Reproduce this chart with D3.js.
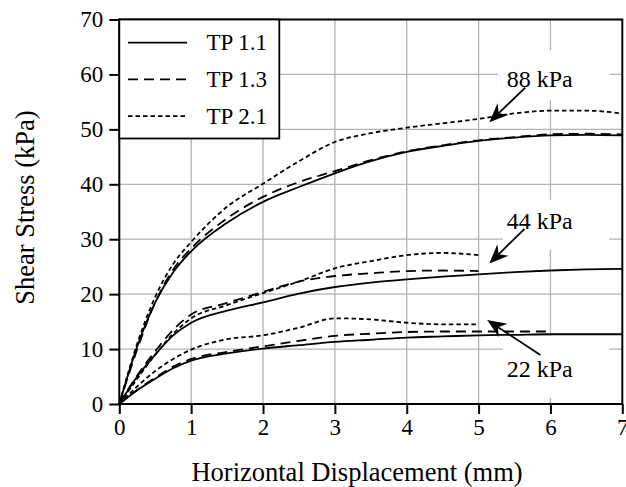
<!DOCTYPE html>
<html><head><meta charset="utf-8">
<script src="https://cdn.jsdelivr.net/npm/d3@7/dist/d3.min.js"></script>
<style>
html,body{margin:0;padding:0;background:#fff;}
svg text{font-family:'Liberation Serif','Tinos','Times New Roman',Times,'DejaVu Serif',serif !important;fill:#000;}
</style></head><body>
<svg id="c" width="626" height="487"></svg>
<script>
// ---- data ----
const xTicks = [0,1,2,3,4,5,6,7];
const yTicks = [0,10,20,30,40,50,60,70];
const seriesNames = ["TP 1.1","TP 1.3","TP 2.1"];
const disp = [0,0.25,0.5,0.75,1,1.5,2,2.5,3,3.5,4,4.5,5,5.5,6,6.5,7];
// 88 kPa
const tp11_88 = [0,10.5,18.5,24,27.8,33,36.8,39.5,42,44.2,45.9,47,47.9,48.5,48.9,49,48.9];
const tp13_88 = [0,10,18.5,24.5,28.3,33.8,37.7,40.4,42.4,44.4,46,47.1,48,48.6,49.1,49.2,49.1];
const tp21_88 = [0,11,19.5,25.5,29.5,35.9,40.1,44.2,47.7,49.3,50.3,51.1,51.9,52.9,53.4,53.4,52.9];
// 44 kPa
const tp11_44 = [0,5,9,12.5,14.8,17,18.5,20.1,21.3,22.1,22.7,23.2,23.6,24,24.3,24.5,24.6];
const tp13_44 = [0,5.2,9.6,13.5,16.3,18.4,20.4,22.3,23.3,23.8,24.2,24.3,24.2];
const tp21_44 = [0,4.6,9,12.8,15.6,18,20.2,22.3,24.7,26,27.1,27.5,27.1];
// 22 kPa
const tp11_22 = [0,2.5,4.6,6.5,7.9,9.2,10.1,10.7,11.3,11.7,12.1,12.3,12.5,12.6,12.7,12.7,12.7];
const tp13_22 = [0,2.6,4.8,6.8,8.2,9.5,10.5,11.5,12.4,12.8,13.1,13.2,13.2,13.2,13.2];
const tp21_22 = [0,3.2,6,8.2,9.9,11.8,12.5,13.9,15.6,15.4,14.8,14.5,14.5];
const annotations = [
  {label:"88 kPa", lx:5.85, ly:59.2, ax:5.65, ay:57.6, tx:5.15, ty:51.3},
  {label:"44 kPa", lx:5.85, ly:33.4, ax:5.64, ay:31.9, tx:5.15, ty:25.6},
  {label:"22 kPa", lx:5.85, ly:6.4,  ax:5.86, ay:8.9,  tx:5.12, ty:15.3}
];

// ---- layout ----
const FONT="'Liberation Serif','Tinos','Times New Roman',Times,'DejaVu Serif',serif";
const W=626,H=487;
const m={l:119.3,t:19.5,r:3.7,b:83};
const svg=d3.select("#c");
const x=d3.scaleLinear().domain([0,7]).range([m.l,W-m.r]);
const y=d3.scaleLinear().domain([0,70]).range([H-m.b,m.t]);

// grid
const g=svg.append("g");
g.selectAll(".vg").data(xTicks.slice(1,-1)).enter().append("line")
 .attr("x1",d=>x(d)).attr("x2",d=>x(d)).attr("y1",y(0)).attr("y2",y(70))
 .attr("stroke","#b3b3b3").attr("stroke-width",1.3);
g.selectAll(".hg").data(yTicks.slice(1,-1)).enter().append("line")
 .attr("y1",d=>y(d)).attr("y2",d=>y(d)).attr("x1",x(0)).attr("x2",x(7))
 .attr("stroke","#b3b3b3").attr("stroke-width",1.3);

// label background boxes
const boxes=[[498,50,112,50],[503,200,106,50],[503,336,106,62]];
svg.selectAll(".bx").data(boxes).enter().append("rect")
 .attr("x",d=>d[0]).attr("y",d=>d[1]).attr("width",d=>d[2]).attr("height",d=>d[3]).attr("fill","#fff");

// curves
const styles={"TP 1.1":null,"TP 1.3":"10,6","TP 2.1":"4.5,3"};
const curves=[
 ["TP 1.1",tp11_88],["TP 1.3",tp13_88],["TP 2.1",tp21_88],
 ["TP 1.1",tp11_44],["TP 1.3",tp13_44],["TP 2.1",tp21_44],
 ["TP 1.1",tp11_22],["TP 1.3",tp13_22],["TP 2.1",tp21_22]
];
const line=d3.line().x(d=>x(d[0])).y(d=>y(d[1])).curve(d3.curveMonotoneX);
curves.forEach(([name,vals])=>{
  const pts=vals.map((v,i)=>[disp[i],v]);
  svg.append("path").attr("d",line(pts)).attr("fill","none").attr("stroke","#000")
   .attr("stroke-width",1.8).attr("stroke-dasharray",styles[name]);
});

// annotations
annotations.forEach(a=>{
  const x0=x(a.ax),y0=y(a.ay),x1=x(a.tx),y1=y(a.ty);
  const dx=x1-x0,dy=y1-y0,len=Math.hypot(dx,dy),ux=dx/len,uy=dy/len,px=-uy,py=ux;
  const L=19,Wd=8,N=13;
  svg.append("line").attr("x1",x0).attr("y1",y0).attr("x2",x1-ux*N).attr("y2",y1-uy*N)
   .attr("stroke","#000").attr("stroke-width",1.8);
  const p=[[x1,y1],[x1-ux*L+px*Wd,y1-uy*L+py*Wd],[x1-ux*N,y1-uy*N],[x1-ux*L-px*Wd,y1-uy*L-py*Wd]];
  svg.append("path").attr("d","M"+p.map(q=>q.join(",")).join("L")+"Z").attr("fill","#000");
  svg.append("text").attr("x",x(a.lx)).attr("y",y(a.ly)).attr("text-anchor","middle")
   .attr("dominant-baseline","central").attr("font-family",FONT).attr("font-size",24).text(a.label);
});

// frame
svg.append("rect").attr("x",x(0)).attr("y",y(70)).attr("width",x(7)-x(0)).attr("height",y(0)-y(70))
 .attr("fill","none").attr("stroke","#000").attr("stroke-width",2);

// axes
const xa=svg.append("g").attr("transform",`translate(0,${y(0)})`)
 .call(d3.axisBottom(x).tickValues(xTicks).tickSize(10).tickPadding(5).tickFormat(d3.format("d")));
const ya=svg.append("g").attr("transform",`translate(${x(0)},0)`)
 .call(d3.axisLeft(y).tickValues(yTicks).tickSize(10).tickPadding(6).tickFormat(d3.format("d")));
[xa,ya].forEach(a=>{
  a.attr("font-family",FONT).attr("font-size",23);
  a.select(".domain").remove();
  a.selectAll(".tick line").attr("stroke","#000").attr("stroke-width",2);
  a.selectAll(".tick text").attr("font-size",23).attr("font-family",FONT).attr("fill","#000");
});

// legend
const lg=svg.append("g");
lg.append("rect").attr("x",x(0)).attr("y",y(70)).attr("width",160).attr("height",119)
 .attr("fill","#fff").attr("stroke","#000").attr("stroke-width",1.8);
seriesNames.forEach((n,i)=>{
  const yy=y(70)+23.2+i*36.7;
  lg.append("line").attr("x1",128).attr("x2",187).attr("y1",yy).attr("y2",yy)
   .attr("stroke","#000").attr("stroke-width",1.8).attr("stroke-dasharray",styles[n]);
  lg.append("text").attr("x",206.5).attr("y",yy).attr("dominant-baseline","central")
   .attr("font-family",FONT).attr("font-size",23).text(n);
});

// titles
svg.append("text").attr("x",357).attr("y",481).attr("text-anchor","middle")
 .attr("font-family",FONT).attr("font-size",26.5).text("Horizontal Displacement (mm)");
svg.append("text").attr("transform",`translate(34,207.5) rotate(-90)`).attr("text-anchor","middle")
 .attr("font-family",FONT).attr("font-size",26.5).text("Shear Stress (kPa)");
</script></body></html>
